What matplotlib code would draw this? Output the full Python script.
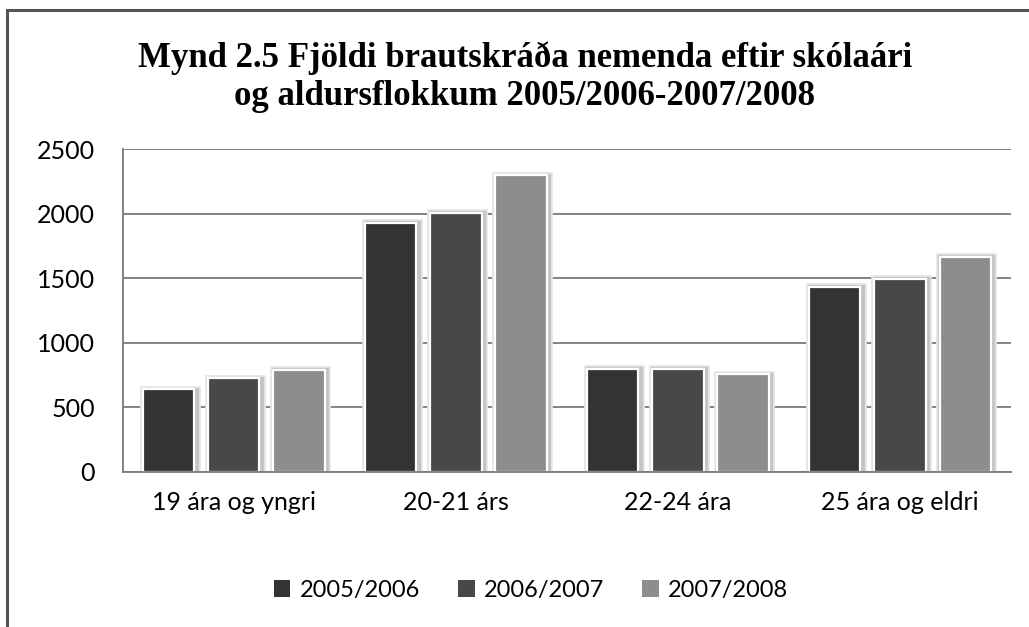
import matplotlib.pyplot as plt
import matplotlib.patheffects as pe
from matplotlib.patches import Rectangle
import numpy as np

# Gögn lesin af myndinni
flokkar = ['19 ára og yngri', '20-21 árs', '22-24 ára', '25 ára og eldri']
ar = ['2005/2006', '2006/2007', '2007/2008']
gildi_0506 = [640, 1933, 798, 1432]
gildi_0607 = [724, 2007, 798, 1494]
gildi_0708 = [788, 2300, 755, 1667]
litir = ['#333333', '#484848', '#8d8d8d']

plt.rcParams['font.family'] = ['Lato', 'DejaVu Sans']

fig = plt.figure(figsize=(10.29, 6.27), dpi=100)
ax = fig.add_axes([0.1195, 0.2477, 0.863, 0.514])

x = np.arange(len(flokkar))
breidd = 0.23
bil = 0.293
# mjúkur skuggi / glói utan um súlurnar eins og í Excel
skuggi = [pe.Stroke(linewidth=7, foreground='#e6e6e6', offset=(1, -1)),
          pe.Stroke(linewidth=4.5, foreground='#c4c4c4', offset=(1, -1)),
          pe.Normal()]
for i, (gildi, litur, lab) in enumerate(zip([gildi_0506, gildi_0607, gildi_0708], litir, ar)):
    ax.bar(x + (i - 1) * bil, gildi, breidd, color=litur, edgecolor='white',
           linewidth=1.6, label=lab, zorder=3, path_effects=skuggi)

ax.set_xlim(-0.5, len(flokkar) - 0.5)
ax.set_ylim(0, 2500)
ax.set_yticks(range(0, 2501, 500))
ax.set_xticks(x)
ax.set_xticklabels(flokkar)
ax.yaxis.grid(True, color='#7a7a7a', linewidth=1.3, zorder=0)
ax.set_axisbelow(True)
for s in ['top', 'right']:
    ax.spines[s].set_visible(False)
for s in ['left', 'bottom']:
    ax.spines[s].set_color('#7a7a7a')
    ax.spines[s].set_linewidth(1.3)
ax.spines['bottom'].set_zorder(4)
ax.tick_params(axis='y', length=0, pad=20, labelsize=18)
ax.tick_params(axis='x', length=0, pad=14, labelsize=18)

fig.text(0.51, 0.908, 'Mynd 2.5 Fjöldi brautskráða nemenda eftir skólaári',
         ha='center', va='center', fontsize=25, fontweight='bold',
         family=['Liberation Serif', 'DejaVu Serif'])
fig.text(0.51, 0.846, 'og aldursflokkum 2005/2006-2007/2008',
         ha='center', va='center', fontsize=25, fontweight='bold',
         family=['Liberation Serif', 'DejaVu Serif'])

leg = fig.legend(loc='center', bbox_to_anchor=(531 / 1029, 1 - 590 / 627), ncol=3,
                 frameon=False, fontsize=17, handlelength=0.7, handleheight=0.7,
                 handletextpad=0.4, columnspacing=1.6)
for h in leg.legend_handles:
    h.set_path_effects([])
    h.set_edgecolor('none')

# ramminn utan um myndina
fig.add_artist(Rectangle((0.0065, -0.01), 1.2, 1.0 - 0.0065, transform=fig.transFigure,
                         fill=False, edgecolor='#555555', linewidth=2.2))

fig.savefig('out.png', dpi=100)
